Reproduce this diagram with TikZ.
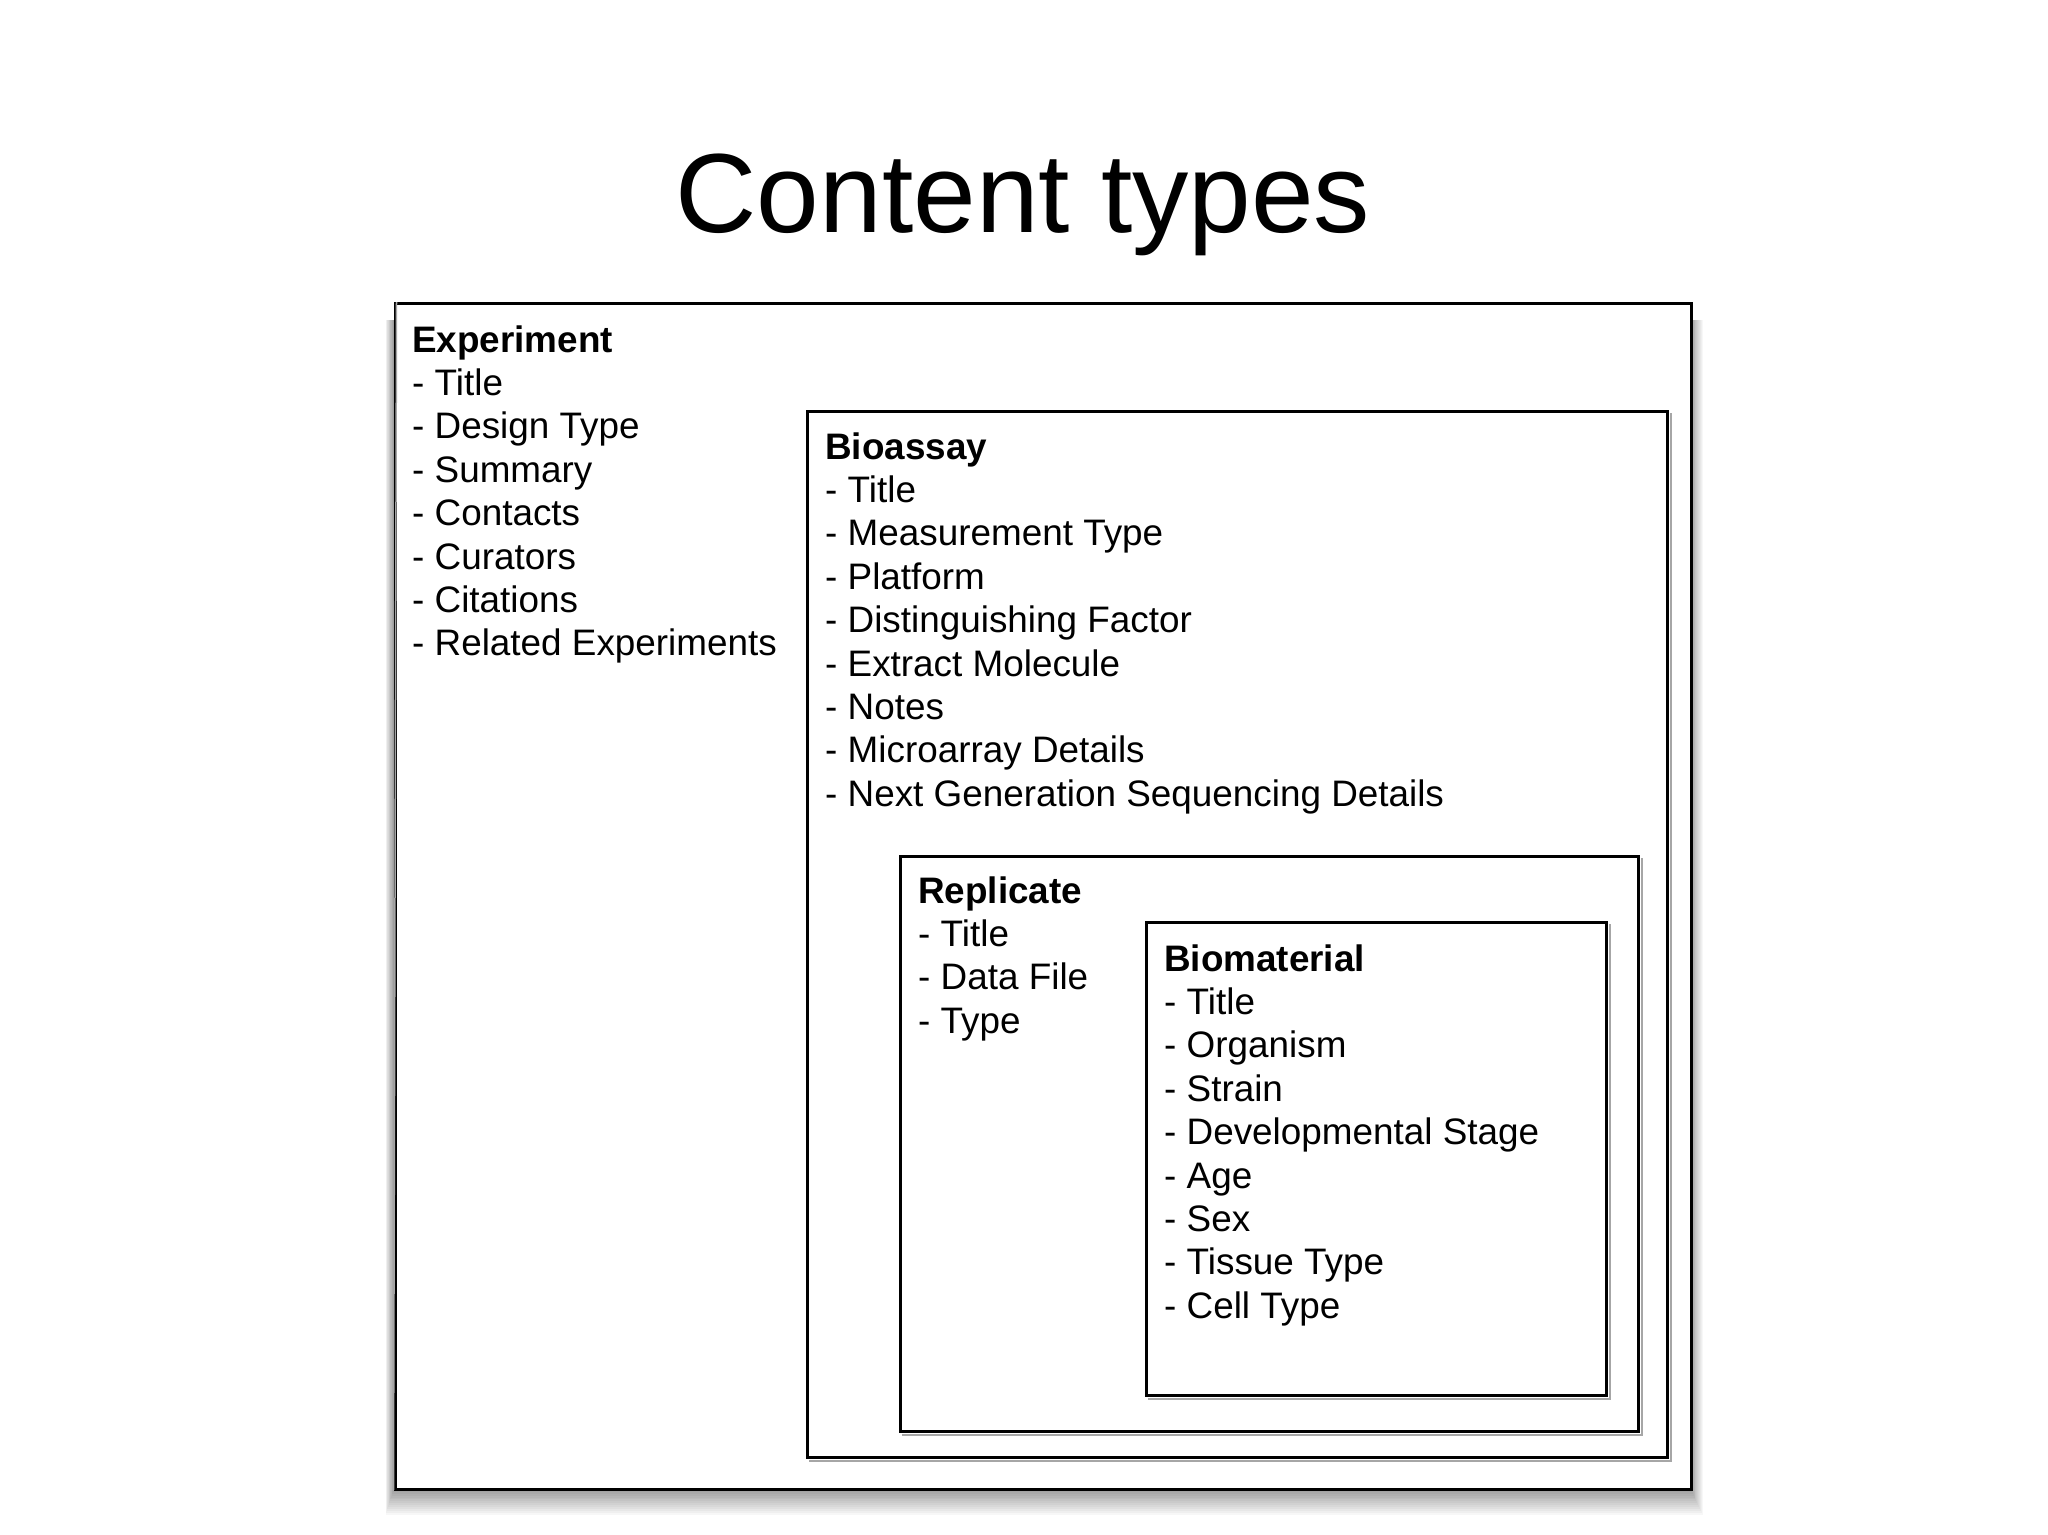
\documentclass[tikz,border=0pt]{standalone}
\usepackage{fontspec}
\setmainfont{Liberation Sans}
\begin{document}
\begin{tikzpicture}[x=1bp,y=-1bp,
  box/.style={draw=black, line width=2.6bp, fill=white, anchor=north west, inner sep=0pt},
  shadelayer/.style={fill=black, opacity=0.03, draw=none},
  innershadow/.style={draw=black!35, line width=1.5bp},
  item/.style={anchor=base west, inner sep=0pt, font=\fontsize{37}{43}\selectfont},
  head/.style={item, font=\fontsize{37}{43}\selectfont\bfseries}]
\useasboundingbox[fill=white] (0,0) rectangle (2048,1535);

\node[anchor=base, inner sep=0pt, font=\fontsize{113}{130}\selectfont] (title) at (1023,232) {Content types};

% soft shadow of the outer frame
\foreach \k in {1,...,14}
  \fill[shadelayer] ({394-0.6*\k},{320}) rectangle ({1690+0.9*\k},{1488+1.9*\k});

\node[box, minimum width=1296bp, minimum height=1186bp] (expbox) at (394,302) {};
\draw[innershadow] ([xshift=2.5bp]expbox.north west) -- ([xshift=-0.5bp,yshift=0.5bp]expbox.south west);

\node[box, minimum width=860bp, minimum height=1046bp] (biobox) at (806,410) {};
\node[box, minimum width=738bp, minimum height=575bp] (repbox) at (899,855) {};
\node[box, minimum width=460bp, minimum height=473bp] (matbox) at (1145,921) {};

\foreach \b in {biobox,repbox,matbox}
  \draw[innershadow] ([xshift=2.4bp,yshift=-3bp]\b.north east) -- ([xshift=2.4bp,yshift=-2.4bp]\b.south east) -- ([xshift=3bp,yshift=-2.4bp]\b.south west);

\node[head] (exph) at (412,352) {Experiment};
\foreach \t [count=\i] in {Title, Design Type, Summary, Contacts, Curators, Citations, Related Experiments}
  \node[item] (exp\i) at (412,{352+43.4*\i}) {- \t};

\node[head] (bioh) at (825,459) {Bioassay};
\foreach \t [count=\i] in {Title, Measurement Type, Platform, Distinguishing Factor, Extract Molecule, Notes, Microarray Details, Next Generation Sequencing Details}
  \node[item] (bio\i) at (825,{459+43.4*\i}) {- \t};

\node[head] (reph) at (918,903) {Replicate};
\foreach \t [count=\i] in {Title, Data File, Type}
  \node[item] (rep\i) at (918,{903+43.4*\i}) {- \t};

\node[head] (math) at (1164,971) {Biomaterial};
\foreach \t [count=\i] in {Title, Organism, Strain, Developmental Stage, Age, Sex, Tissue Type, Cell Type}
  \node[item] (mat\i) at (1164,{971+43.4*\i}) {- \t};
\end{tikzpicture}
\end{document}
